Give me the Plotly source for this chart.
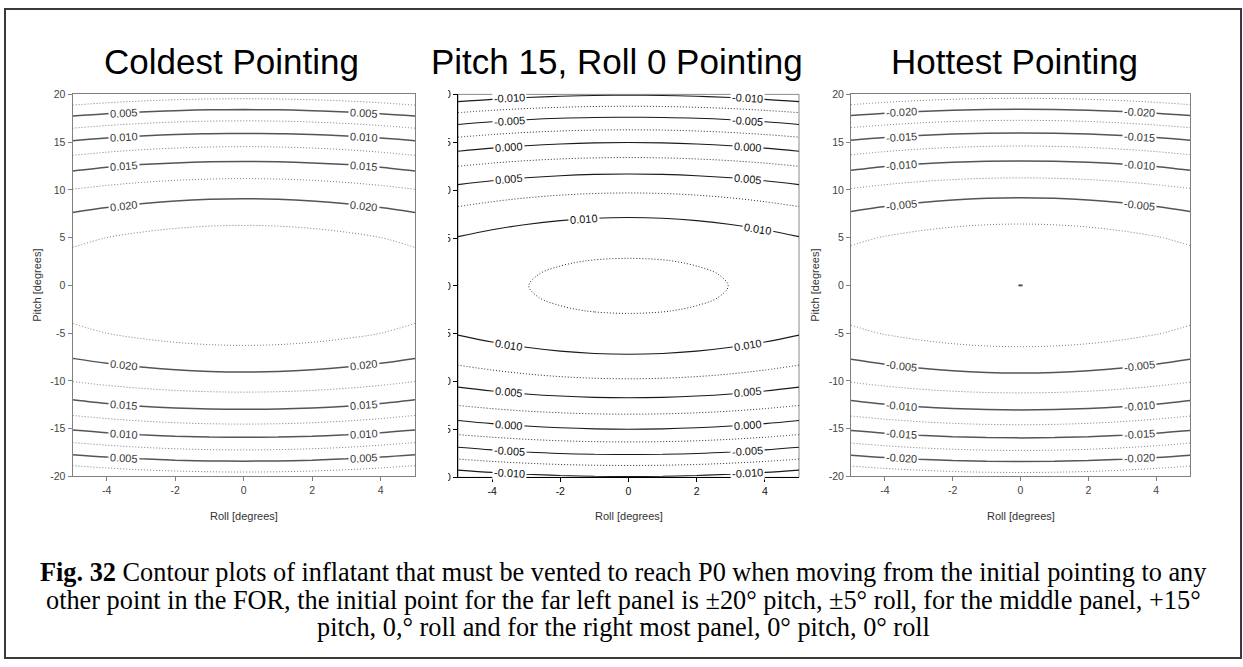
import math
import numpy as np
import plotly.graph_objects as go

W, H = 1243, 667

# Sample positions of the quarter grid (pitch >= 0, roll >= 0).
# Every field is symmetric in pitch and in roll, so the full grid is mirrored from it.
pitch_half = [0, 1.25, 2.5, 3.75, 5, 7.5, 10, 12.5, 15, 17.5, 20]
roll_half = [0, 1, 2, 3, 4, 5]

# Inflatant to vent, rows = pitch_half, columns = roll_half
coldest_half = [
    [0.0249000, 0.0248415, 0.0246660, 0.0243735, 0.0239640, 0.0234375],
    [0.0248086, 0.0247501, 0.0245746, 0.0242821, 0.0238726, 0.0233461],
    [0.0245344, 0.0244759, 0.0243004, 0.0240079, 0.0235984, 0.0230719],
    [0.0240773, 0.0240188, 0.0238433, 0.0235508, 0.0231413, 0.0226148],
    [0.0234375, 0.0233790, 0.0232035, 0.0229110, 0.0225015, 0.0219750],
    [0.0216094, 0.0215509, 0.0213754, 0.0210829, 0.0206734, 0.0201469],
    [0.0190500, 0.0189915, 0.0188160, 0.0185235, 0.0181140, 0.0175875],
    [0.0157594, 0.0157009, 0.0155254, 0.0152329, 0.0148234, 0.0142969],
    [0.0117375, 0.0116790, 0.0115035, 0.0112110, 0.0108015, 0.0102750],
    [0.0069844, 0.0069259, 0.0067504, 0.0064579, 0.0060484, 0.0055219],
    [0.0015000, 0.0014415, 0.0012660, 0.0009735, 0.0005640, 0.0000375],
]

pitch15_half = [
    [0.0130000, 0.0129420, 0.0127680, 0.0124780, 0.0120720, 0.0115500],
    [0.0129094, 0.0128514, 0.0126774, 0.0123874, 0.0119814, 0.0114594],
    [0.0126375, 0.0125795, 0.0124055, 0.0121155, 0.0117095, 0.0111875],
    [0.0121844, 0.0121264, 0.0119524, 0.0116624, 0.0112564, 0.0107344],
    [0.0115500, 0.0114920, 0.0113180, 0.0110280, 0.0106220, 0.0101000],
    [0.0097375, 0.0096795, 0.0095055, 0.0092155, 0.0088095, 0.0082875],
    [0.0072000, 0.0071420, 0.0069680, 0.0066780, 0.0062720, 0.0057500],
    [0.0039375, 0.0038795, 0.0037055, 0.0034155, 0.0030095, 0.0024875],
    [-0.0000500, -0.0001080, -0.0002820, -0.0005720, -0.0009780, -0.0015000],
    [-0.0047625, -0.0048205, -0.0049945, -0.0052845, -0.0056905, -0.0062125],
    [-0.0102000, -0.0102580, -0.0104320, -0.0107220, -0.0111280, -0.0116500],
]

hottest_half = [
    [0.0000030, -0.0000555, -0.0002310, -0.0005235, -0.0009330, -0.0014595],
    [-0.0000884, -0.0001469, -0.0003224, -0.0006149, -0.0010244, -0.0015509],
    [-0.0003626, -0.0004211, -0.0005966, -0.0008891, -0.0012986, -0.0018251],
    [-0.0008197, -0.0008782, -0.0010537, -0.0013462, -0.0017557, -0.0022822],
    [-0.0014595, -0.0015180, -0.0016935, -0.0019860, -0.0023955, -0.0029220],
    [-0.0032876, -0.0033461, -0.0035216, -0.0038141, -0.0042236, -0.0047501],
    [-0.0058470, -0.0059055, -0.0060810, -0.0063735, -0.0067830, -0.0073095],
    [-0.0091376, -0.0091961, -0.0093716, -0.0096641, -0.0100736, -0.0106001],
    [-0.0131595, -0.0132180, -0.0133935, -0.0136860, -0.0140955, -0.0146220],
    [-0.0179126, -0.0179711, -0.0181466, -0.0184391, -0.0188486, -0.0193751],
    [-0.0233970, -0.0234555, -0.0236310, -0.0239235, -0.0243330, -0.0248595],
]

titles = ["Coldest Pointing", "Pitch 15, Roll 0 Pointing", "Hottest Pointing"]
x_ticks = [-4, -2, 0, 2, 4]
y_ticks = [-20, -15, -10, -5, 0, 5, 10, 15, 20]
major_levels = [round(0.005 * k, 3) for k in range(-6, 7)]

caption_lines = [
    "<b>Fig. 32</b> Contour plots of inflatant that must be vented to reach P0 when moving from the initial pointing to any",
    "other point in the FOR, the initial point for the far left panel is ±20° pitch, ±5° roll, for the middle panel, +15°",
    "pitch, 0,° roll and for the right most panel, 0° pitch, 0° roll",
]

# where along roll the level labels sit; (panel, level, upper half) -> roll positions
label_rolls = [-3.5, 3.5]
label_roll_overrides = {(1, 0.010, True): [-1.3, 3.8]}


def mirror_grid(rows):
    full = [list(reversed(r[1:])) + list(r) for r in rows]
    return list(reversed(full[1:])) + full


def fmt(v):
    return ("%.3f" % v).replace("-0.000", "0.000")


pitch = [-p for p in reversed(pitch_half[1:])] + pitch_half
roll = [-r for r in reversed(roll_half[1:])] + roll_half
R = np.array(roll, dtype=float)
P = np.array(pitch, dtype=float)


def level_crossings(Z, r0, level):
    col = np.array([np.interp(r0, R, row) for row in Z]) - level
    out = []
    for k in range(len(P) - 1):
        if col[k] * col[k + 1] < 0:
            f = col[k] / (col[k] - col[k + 1])
            out.append(P[k] + f * (P[k + 1] - P[k]))
    return out


# panel frames in pixels: (left, right, top, bottom) and title centres
frames = [(72.5, 415, 90, 479), (458, 799, 90, 480), (851, 1190, 90, 479)]
title_x = [231, 617, 1014]
styles = [
    dict(major="#555555", minor="#7a7a7a", label="#3a3a3a", axis="#808080", tick="#444444", width=1.5),
    dict(major="#1a1a1a", minor="#2a2a2a", label="#111111", axis="#000000", tick="#111111", width=1.1),
    dict(major="#555555", minor="#7a7a7a", label="#3a3a3a", axis="#808080", tick="#444444", width=1.5),
]
fields = [coldest_half, pitch15_half, hottest_half]

fig = go.Figure()
layout = dict(
    width=W, height=H, margin=dict(l=0, r=0, t=0, b=0),
    paper_bgcolor="white", plot_bgcolor="white", showlegend=False,
    font=dict(family="Liberation Sans, Arial, sans-serif", size=11, color="#333"),
)
annotations = []
shapes = []

for i, (half, fr, st, title) in enumerate(zip(fields, frames, styles, titles)):
    n = "" if i == 0 else str(i + 1)
    xa, ya = "x" + n, "y" + n
    z = mirror_grid(half)
    Z = np.array(z, dtype=float)
    # major levels, solid
    fig.add_trace(go.Contour(
        x=roll, y=pitch, z=z, xaxis=xa, yaxis=ya, showscale=False,
        autocontour=False,
        contours=dict(start=-0.03, end=0.03, size=0.005, coloring="none", showlabels=False),
        line=dict(color=st["major"], width=st["width"], smoothing=1),
        hoverinfo="skip",
    ))
    # intermediate levels, dotted
    fig.add_trace(go.Contour(
        x=roll, y=pitch, z=z, xaxis=xa, yaxis=ya, showscale=False,
        autocontour=False,
        contours=dict(start=-0.0275, end=0.0275, size=0.005, coloring="none"),
        line=dict(color=st["minor"], width=1, dash="1px,2px", smoothing=1),
        hoverinfo="skip",
    ))
    l, r, t, b = fr
    kx, ky = (r - l) / 10.0, (b - t) / 40.0
    mirror_axes = (i != 1)
    layout["xaxis" + n] = dict(
        domain=[l / W, r / W], range=[-5, 5], anchor=ya,
        tickvals=x_ticks, ticktext=[str(v) for v in x_ticks],
        ticks="outside", ticklen=4, tickcolor=st["axis"],
        tickfont=dict(size=10.5, color=st["tick"]),
        showline=True, linecolor=st["axis"], linewidth=1, mirror=mirror_axes,
        showgrid=False, zeroline=False,
    )
    layout["yaxis" + n] = dict(
        domain=[1 - b / H, 1 - t / H], range=[-20, 20], anchor=xa,
        tickvals=y_ticks, ticktext=[str(v) for v in y_ticks],
        ticks="outside", ticklen=4, tickcolor=st["axis"],
        tickfont=dict(size=10.5, color=st["tick"]),
        showline=True, linecolor=st["axis"], linewidth=1, mirror=mirror_axes,
        showgrid=False, zeroline=False,
    )

    # level labels sitting on the solid contours
    for level in major_levels:
        for upper in (True, False):
            rolls = label_roll_overrides.get((i, level, upper), label_rolls)
            for r0 in rolls:
                hits = [p for p in level_crossings(Z, r0, level) if (p > 0) == upper]
                if not hits:
                    continue
                p0 = hits[0]
                a = [p for p in level_crossings(Z, r0 - 0.2, level) if (p > 0) == upper]
                c = [p for p in level_crossings(Z, r0 + 0.2, level) if (p > 0) == upper]
                slope = (c[0] - a[0]) / 0.4 if (a and c) else 0.0
                angle = -math.degrees(math.atan(slope * ky / kx))
                annotations.append(dict(
                    text=fmt(level), x=r0, y=p0, xref=xa, yref=ya, showarrow=False,
                    xanchor="center", yanchor="middle", textangle=angle,
                    bgcolor="white", borderpad=1,
                    font=dict(size=11, color=st["label"]),
                ))

    cx = (l + r) / 2
    annotations.append(dict(
        text=title, x=title_x[i] / W, y=1 - 57 / H, xref="paper", yref="paper",
        showarrow=False, xanchor="center", yanchor="middle",
        font=dict(family="Liberation Sans, Arial", size=35, color="#000"),
    ))
    annotations.append(dict(
        text="Roll [degrees]", x=cx / W, y=1 - 519 / H, xref="paper", yref="paper",
        showarrow=False, xanchor="center", yanchor="middle",
        font=dict(size=11, color="#333"),
    ))

# pitch axis titles for the outer panels
for px in (37, 815):
    annotations.append(dict(
        text="Pitch [degrees]", x=px / W, y=1 - 285 / H, xref="paper", yref="paper",
        showarrow=False, xanchor="center", yanchor="middle", textangle=-90,
        font=dict(size=11, color="#333"),
    ))

for k, line in enumerate(caption_lines):
    annotations.append(dict(
        text=line, x=623 / W, y=1 - (577 + 28 * k) / H, xref="paper", yref="paper",
        showarrow=False, xanchor="center", yanchor="middle",
        font=dict(family="Liberation Serif, Times New Roman, serif", size=26.3, color="#000"),
    ))

# top and right edges of the middle frame
shapes.append(dict(type="rect", xref="x2 domain", yref="y2 domain", x0=0, x1=1, y0=0, y1=1,
                   line=dict(color="#8a8a8a", width=1), layer="below"))
# cropped left margin of the middle panel
shapes.append(dict(type="rect", xref="paper", yref="paper", x0=418 / W, x1=448 / W,
                   y0=1 - 492 / H, y1=1 - 80 / H, fillcolor="white", line=dict(width=0), layer="above"))
# outer figure border
shapes.append(dict(type="rect", xref="paper", yref="paper", x0=5 / W, x1=1241 / W,
                   y0=1 - 664 / H, y1=1 - 3 / H, line=dict(color="#3a3a3a", width=2), layer="above"))

layout["annotations"] = annotations
layout["shapes"] = shapes
fig.update_layout(**layout)
fig.write_html("out.html")
